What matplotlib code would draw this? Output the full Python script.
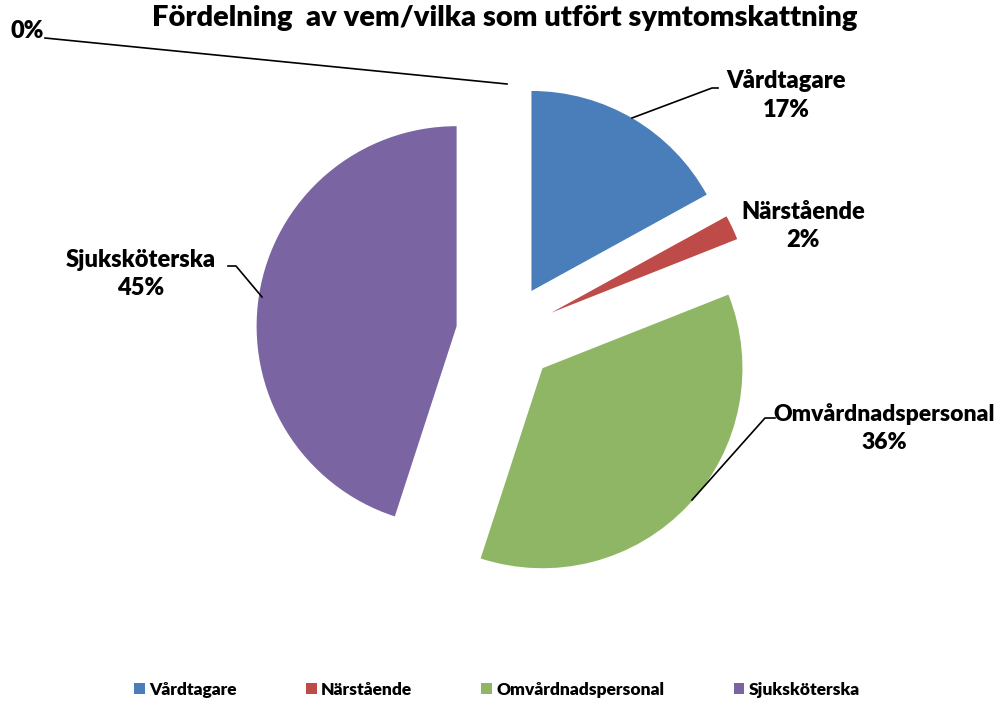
import matplotlib
matplotlib.use("Agg")
import matplotlib.pyplot as plt

categories = ["Vårdtagare", "Närstående", "Omvårdnadspersonal", "Sjuksköterska", ""]
values = [17, 2, 36, 45, 0]
pct_labels = ["17%", "2%", "36%", "45%", "0%"]
colors = ["#4A7EBB", "#BE4B48", "#8FB665", "#7A64A2", "#F79646"]
title = "Fördelning  av vem/vilka som utfört symtomskattning"

plt.rcParams['font.family'] = ['Lato', 'DejaVu Sans']

W, H = 1000, 704
CX, CY, R = 506, 334, 200

fig = plt.figure(figsize=(W / 100, H / 100), dpi=100)
ax = fig.add_axes([0, 0, 1, 1])


def p(px, py):
    return ((px - CX) / R, (CY - py) / R)


wedges, _ = ax.pie(values, colors=colors, startangle=90, counterclock=False,
                   explode=[0.25] * len(values), radius=1,
                   wedgeprops=dict(linewidth=0))
ax.set_aspect('auto')
ax.set_xlim(-CX / R, (W - CX) / R)
ax.set_ylim(-(H - CY) / R, CY / R)
ax.axis('off')

lw = 1.2
# leader lines
ax.plot(*zip(p(45, 38), p(507, 84)), color='black', lw=lw)
ax.plot(*zip(p(632, 118), p(712, 88), p(718, 88)), color='black', lw=lw)
ax.plot(*zip(p(692, 500), p(765, 418), p(775, 418)), color='black', lw=lw)
ax.plot(*zip(p(262, 297), p(236, 266), p(228, 266)), color='black', lw=lw)

fs = 17
WT = 'heavy'
def lab(txt, px, py, ha='center', size=fs):
    ax.text(*p(px, py), txt, ha=ha, va='center', fontsize=size,
            fontweight=WT, linespacing=1.38)

lab(categories[0] + "\n" + pct_labels[0], 786, 95)
lab(categories[1] + "\n" + pct_labels[1], 803, 226)
lab(categories[2] + "\n" + pct_labels[2], 884, 428, size=16.5)
lab(categories[3] + "\n" + pct_labels[3], 141, 274)
lab(pct_labels[4], 44, 31, ha='right')

fig.text(505 / W, 1 - 18 / H, title, ha='center', va='center',
         fontsize=21, fontweight=WT)

leg = fig.legend(wedges[:4], categories[:4], loc='center', ncol=4,
                 bbox_to_anchor=(0.497, 1 - 690 / H), frameon=False,
                 prop=dict(size=12.5, weight=WT), handlelength=0.6,
                 handleheight=0.6, handletextpad=0.25, columnspacing=4.0)

fig.savefig("out.png", dpi=100)
